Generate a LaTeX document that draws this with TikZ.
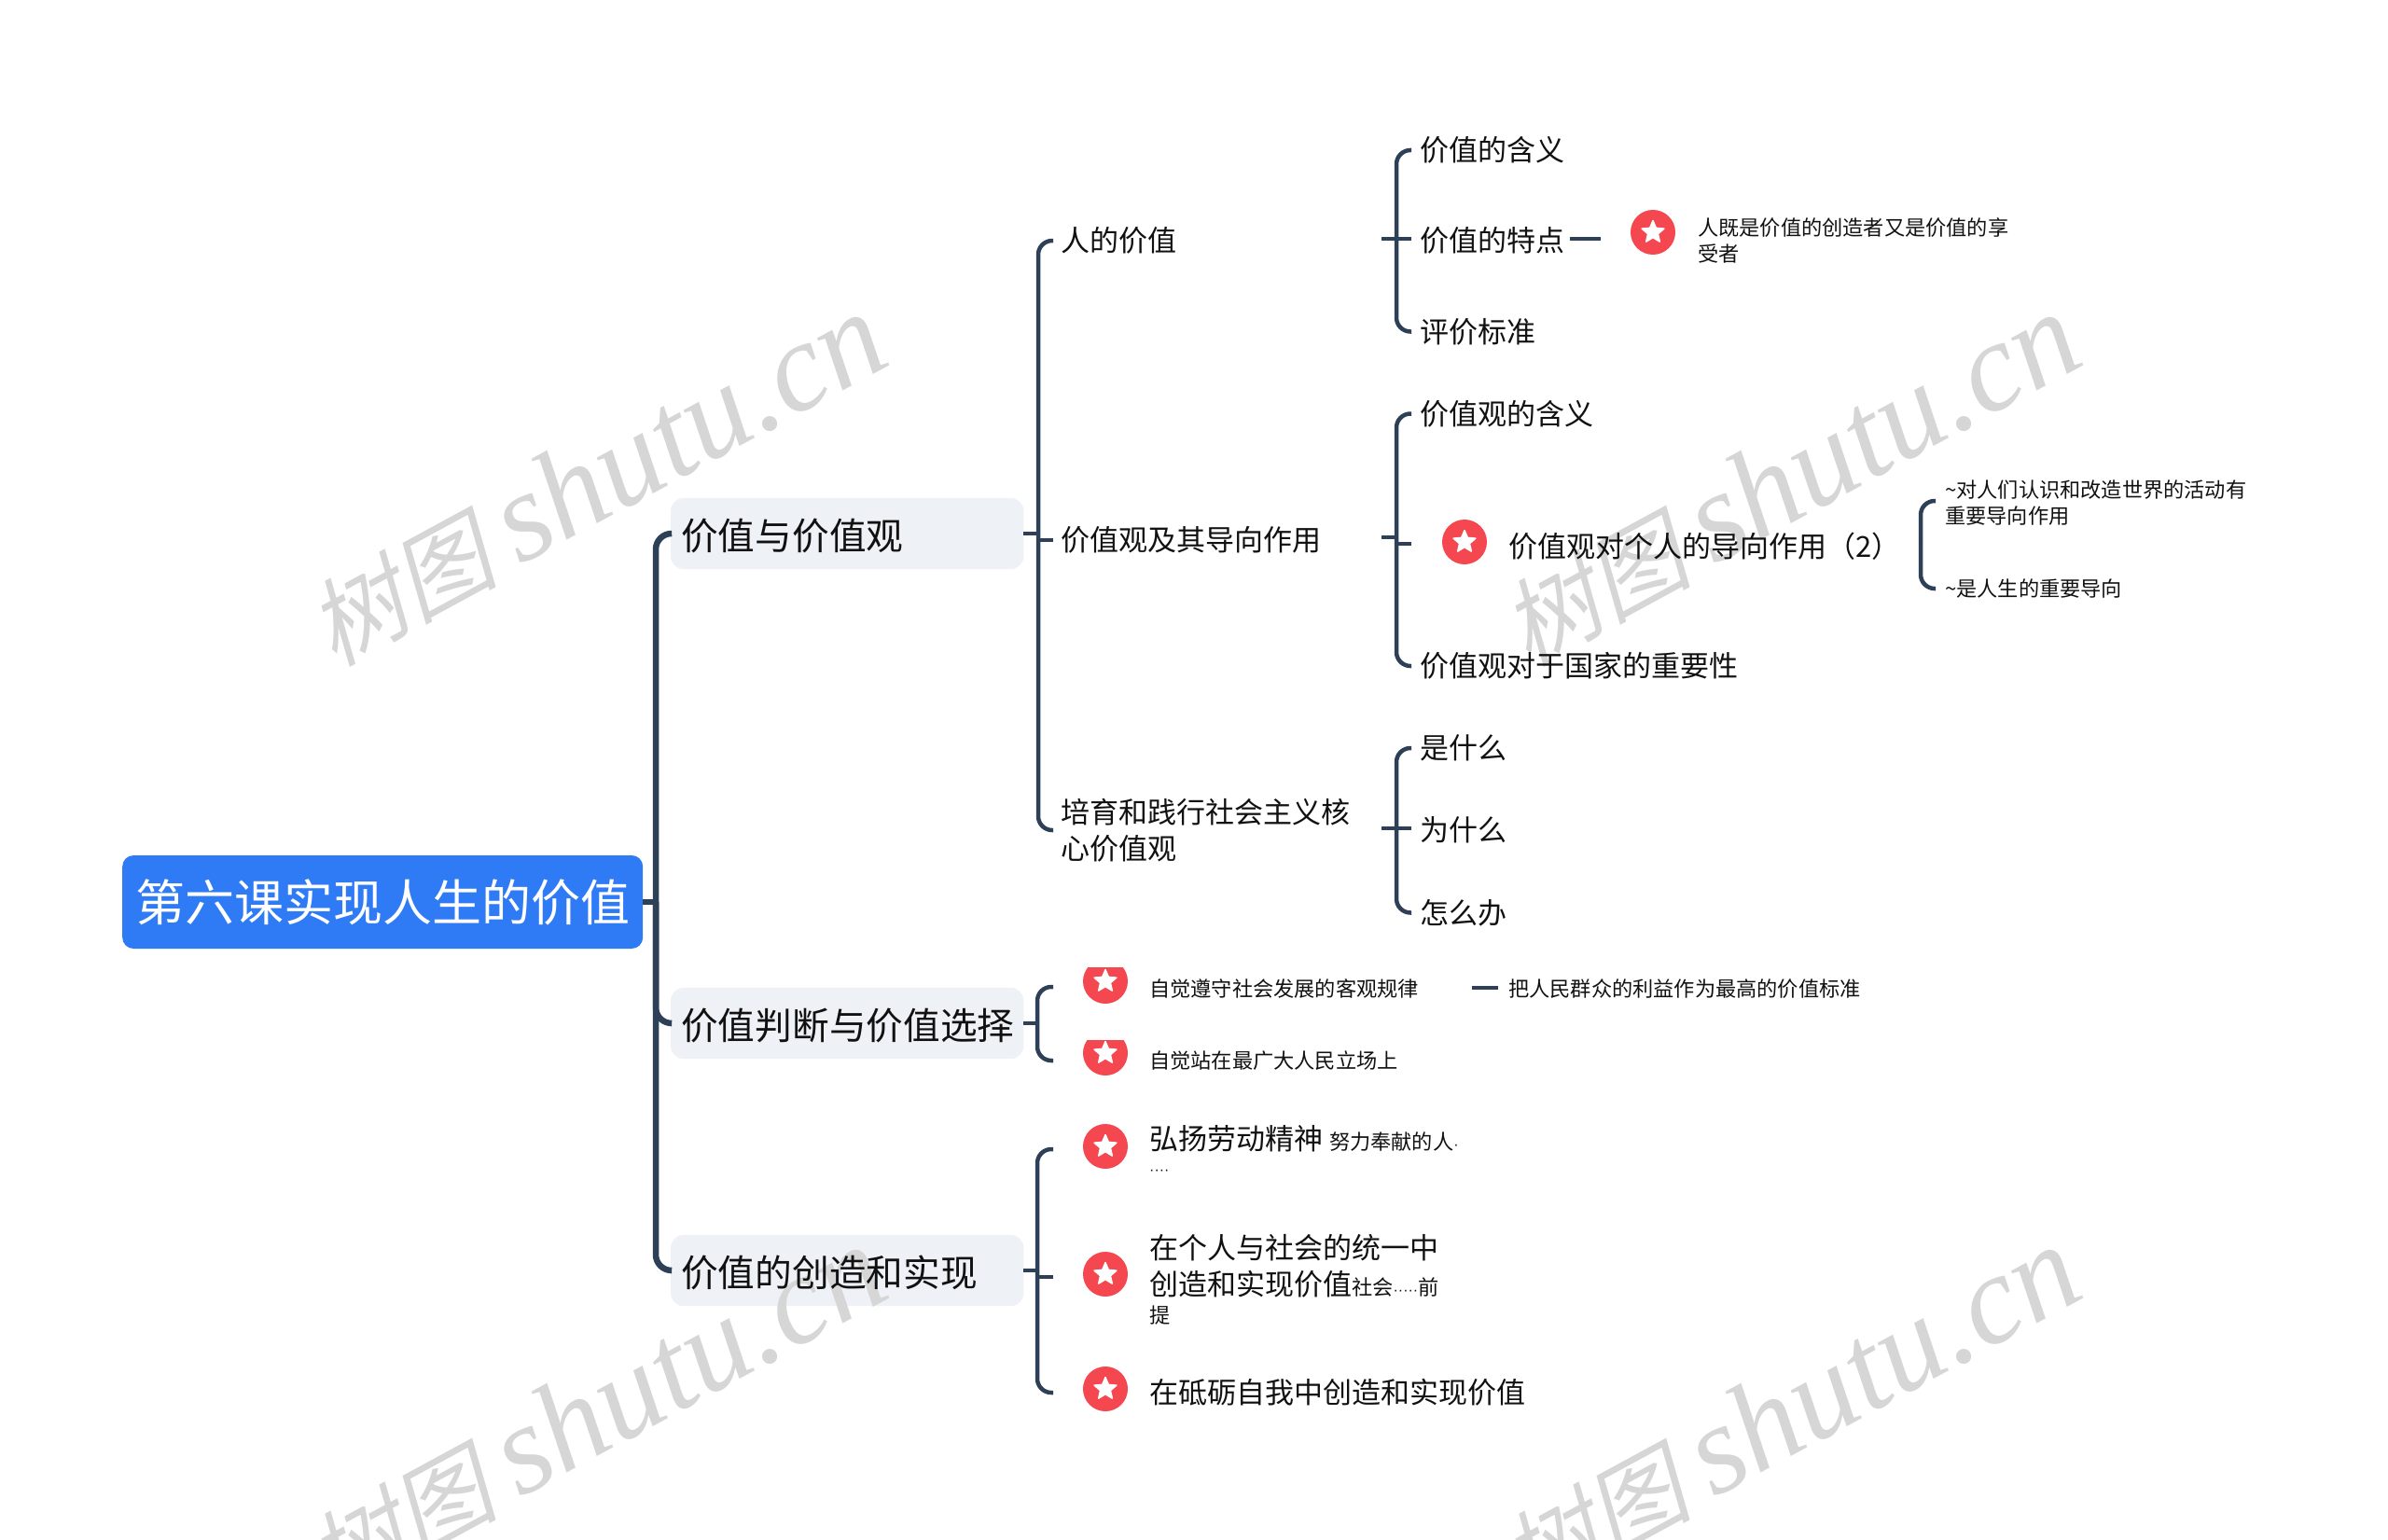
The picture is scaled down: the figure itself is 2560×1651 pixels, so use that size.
\documentclass[tikz,border=0pt]{standalone}
\usepackage{fontspec}
\usetikzlibrary{shapes.geometric,calc}
\setmainfont{Noto Sans CJK SC}
\newfontfamily\wmcjk[FakeSlant=0.22]{Noto Sans CJK SC}
\newfontfamily\wmlat{Liberation Serif}[ItalicFont={Liberation Serif Italic}]
\newfontfamily\dotfont{Liberation Sans}
\definecolor{linec}{HTML}{2E4057}
\definecolor{rootc}{HTML}{2F7BF6}
\definecolor{boxc}{HTML}{EEF1F5}
\definecolor{starc}{HTML}{F4474F}
\definecolor{wmc}{HTML}{D6D6D6}
\definecolor{txtc}{HTML}{111111}
\pgfdeclarelayer{bg}\pgfdeclarelayer{wm}
\pgfsetlayers{bg,wm,main}
\tikzset{
  x=1pt,y=-1pt,
  rootbox/.style={rectangle,rounded corners=12pt,fill=rootc,text=white,minimum width=558pt,minimum height=100pt,inner sep=0pt,font=\fontsize{53}{60}\selectfont,anchor=west},
  topicbox/.style={rectangle,minimum width=378pt,minimum height=76pt,inner sep=0pt,text=txtc,font=\fontsize{39.7}{46}\selectfont,anchor=west,align=left,text width=356pt},
  txt/.style={inner sep=0pt,text=txtc,anchor=west,align=left,font=\fontsize{31}{39}\selectfont},
  subt/.style={txt,text width=344pt},
  small/.style={inner sep=0pt,text=txtc,anchor=west,align=left,font=\fontsize{22.2}{28}\selectfont},
  conn/.style={draw=linec,line width=4.5pt},
  rconn/.style={conn,rounded corners=15pt},
  mconn/.style={draw=linec,line width=6.5pt},
  mrconn/.style={mconn,rounded corners=17pt},
  badge/.style={circle,fill=starc,minimum size=48pt,inner sep=0pt},
  badgestar/.style={star,star points=5,star point ratio=2.2,fill=white,draw=white,line width=1.5pt,line join=round,minimum size=25pt,inner sep=0pt},
  wmtext/.style={text=wmc,rotate=28.5,inner sep=0pt,font=\fontsize{102}{110}\selectfont},
}
\newcommand{\starbadge}[2]{\node[badge] (#1) at #2 {};\node[badgestar] at #2 {};}
\newcommand{\wmark}[2]{\begin{pgfonlayer}{wm}\node[wmtext] (#1) at #2 {{\wmcjk 树图} {\wmlat\itshape\fontsize{136}{140}\selectfont shutu.cn}};\end{pgfonlayer}}
\newcommand{\boxfill}[1]{\begin{pgfonlayer}{bg}\fill[boxc,rounded corners=14pt] (#1.south west) rectangle (#1.north east);\end{pgfonlayer}}
\newcommand{\thindots}[1]{{\dotfont\fontsize{16}{16}\selectfont #1}}
\newcommand{\toptext}[1]{\raisebox{-17.5pt}[15pt][15pt]{#1}}
\begin{document}
\begin{tikzpicture}
\useasboundingbox (0,0) rectangle (2560,1651);
\clip (0,0) rectangle (2560,1651);
% watermarks
\wmark{wa}{(638,514)}
\wmark{wb}{(1918,514)}
\wmark{wc}{(638,1514)}
\wmark{wd}{(1918,1514)}
% root and topics
\node[rootbox] (root) at (131,967) {第六课实现人生的价值};
\node[topicbox] (t1) at (719,572) {\toptext{价值与价值观}};
\node[topicbox] (t2) at (719,1097) {\toptext{价值判断与价值选择}};
\node[topicbox] (t3) at (719,1362) {\toptext{价值的创造和实现}};
\boxfill{t1}\boxfill{t2}\boxfill{t3}
% level 2
\node[subt] (a1) at (1137,258) {人的价值};
\node[subt] (a2) at (1137,579) {价值观及其导向作用};
\node[subt] (a3) at (1137,890) {培育和践行社会主义核\\心价值观};
% level 3
\node[txt] (b1) at (1522,161) {价值的含义};
\node[txt] (b2) at (1522,258) {价值的特点};
\node[txt] (b3) at (1522,355.5) {评价标准};
\starbadge{st1}{(1772,249)}
\node[small] (b2n) at (1820,258) {人既是价值的创造者又是价值的享\\受者};
\node[txt] (c1) at (1522,443.5) {价值观的含义};
\starbadge{st2}{(1570,581)}
\node[txt] (c2) at (1617,586) {价值观对个人的导向作用（2）};
\node[txt] (c3) at (1522,714) {价值观对于国家的重要性};
\node[small] (d1) at (2085,539) {\textasciitilde 对人们认识和改造世界的活动有\\重要导向作用};
\node[small] (d2) at (2085,631) {\textasciitilde 是人生的重要导向};
\node[txt] (e1) at (1522,802) {是什么};
\node[txt] (e2) at (1522,890) {为什么};
\node[txt] (e3) at (1522,978.5) {怎么办};
% value choice
\begin{scope}
\clip (1150,1037.5) rectangle (1220,1090);
\starbadge{st3}{(1185,1052)}
\end{scope}
\begin{scope}
\clip (1150,1115) rectangle (1220,1170);
\starbadge{st4}{(1185,1129)}
\end{scope}
\node[small] (f1) at (1232,1060) {自觉遵守社会发展的客观规律};
\node[small] (f1n) at (1617,1060) {把人民群众的利益作为最高的价值标准};
\node[small] (f2) at (1232,1137) {自觉站在最广大人民立场上};
\coordinate (f1c) at (1129,1058);
\coordinate (f2c) at (1129,1137);
% creation
\starbadge{st5}{(1185,1229)}
\starbadge{st6}{(1185,1366)}
\starbadge{st7}{(1185,1489)}
\node[txt] (g1) at (1232,1233) {弘扬劳动精神 {\fontsize{22.2}{28}\selectfont 努力奉献的人\thindots{·}}\\[-12pt]{\thindots{····}}};
\node[txt] (g2) at (1232,1372) {在个人与社会的统一中\\创造和实现价值{\fontsize{22.2}{28}\selectfont 社会\thindots{·····}前}\\[-9pt]{\fontsize{22.2}{28}\selectfont 提}};
\node[txt] (g3) at (1232,1493) {在砥砺自我中创造和实现价值};
\coordinate (g1c) at (1129,1232);
\coordinate (g2c) at (1129,1369);
\coordinate (g3c) at (1129,1493);
% spines
\coordinate (sm) at (703,967);
\coordinate (s1) at (1113,572);
\coordinate (s2) at (1112,1097);
\coordinate (s3) at (1112,1362);
\coordinate (sa1) at (1497,256);
\coordinate (sa2) at (1497,576);
\coordinate (sa3) at (1497,888);
\coordinate (sc2) at (2059,583);
% main connectors
\draw[mconn] (root.east) -- (sm);
\draw[mrconn] (sm) |- (t1.west);
\draw[mrconn] (sm) |- (t2.west);
\draw[mrconn] (sm) |- (t3.west);
% topic 1
\draw[conn] (t1.east) -- (s1);
\draw[rconn,shorten >=8pt] (s1) |- (a1.west);
\draw[conn,shorten >=8pt] (s1) |- (a2.west);
\draw[rconn,shorten >=8pt] (s1) |- (a3.west);
% a1
\draw[conn] (a1.east |- sa1) -- (sa1);
\draw[rconn,shorten >=9pt] (sa1) |- (b1.west);
\draw[conn,shorten >=9pt] (sa1) -- (b2.west |- sa1);
\draw[rconn,shorten >=9pt] (sa1) |- (b3.west);
\draw[conn,shorten <=6pt,shorten >=32pt] (b2.east |- sa1) -- (st1.west |- sa1);
% a2
\draw[conn] (a2.east |- sa2) -- (sa2);
\draw[rconn,shorten >=9pt] (sa2) |- (c1.west);
\coordinate (c2c) at (1513,583);
\draw[conn] (sa2) |- (c2c);
\draw[rconn,shorten >=9pt] (sa2) |- (c3.west);
% c2
\draw[conn,shorten <=20pt] (c2.east |- sc2) -- (sc2);
\coordinate (d1c) at (2085,537);
\draw[rconn,shorten >=10pt] (sc2) |- (d1c);
\draw[rconn,shorten >=10pt] (sc2) |- (d2.west);
% a3
\draw[conn] (a3.east |- sa3) -- (sa3);
\draw[rconn,shorten >=9pt] (sa3) |- (e1.west);
\draw[conn,shorten >=9pt] (sa3) -- (e2.west |- sa3);
\draw[rconn,shorten >=9pt] (sa3) |- (e3.west);
% topic 2
\draw[conn] (t2.east) -- (s2);
\draw[rconn] (s2) |- (f1c);
\draw[rconn] (s2) |- (f2c);
\coordinate (f1y) at (0,1059);
\draw[conn,shorten <=57pt,shorten >=11pt] (f1.east |- f1y) -- (f1n.west |- f1y);
% topic 3
\draw[conn] (t3.east) -- (s3);
\draw[rconn] (s3) |- (g1c);
\draw[conn] (s3) |- (g2c);
\draw[rconn] (s3) |- (g3c);
\end{tikzpicture}
\end{document}
